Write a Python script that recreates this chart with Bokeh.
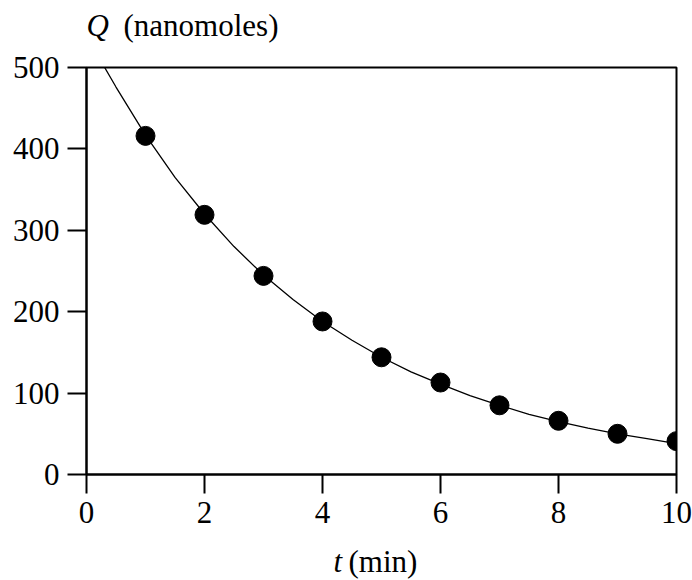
from bokeh.plotting import figure
from bokeh.layouts import column
from bokeh.models import Range1d, FixedTicker
from bokeh.core.properties import value
from bokeh.embed import file_html
from bokeh.resources import INLINE

# measured points
t_obs = [1, 2, 3, 4, 5, 6, 7, 8, 9, 10]
q_obs = [416, 319, 244, 188, 144, 113, 85, 66, 50, 41]

# fitted curve
t_fit = [0.3, 0.5, 1.0, 1.5, 2.0, 2.5, 3.0, 3.5, 4.0, 4.5, 5.0, 5.5, 6.0, 6.5,
         7.0, 7.5, 8.0, 8.5, 9.0, 9.5, 10.0]
q_fit = [501, 476, 417, 365, 320, 280, 245, 215, 188, 165, 144, 126, 111, 97,
         85, 74, 65, 57, 50, 44, 38]

x_ticks = [0, 2, 4, 6, 8, 10]
y_ticks = [0, 100, 200, 300, 400, 500]

FONT = "Liberation Serif"
FS = "31px"
W = 692
LEFT, RIGHT = 86, 16
HEAD_H = 50
FOOT_H = 36
MAIN_H = 580 - HEAD_H - FOOT_H
TOP = 67 - HEAD_H          # main frame top, inside the main figure
FRAME_H = 407
SHIFT = 9                  # compensation for the renderer's baseline offset


def text_strip(height):
    f = figure(width=W, height=height, output_backend="svg", toolbar_location=None,
               title_location=None,
               x_range=Range1d(LEFT, W - RIGHT), y_range=Range1d(0, height),
               x_axis_type=None, y_axis_type=None,
               min_border_left=LEFT, min_border_right=RIGHT,
               min_border_top=0, min_border_bottom=0)
    f.grid.visible = False
    f.outline_line_color = None
    f.background_fill_color = "white"
    f.border_fill_color = "white"
    return f


def put(f, x, y, s, style="normal"):
    f.text(x=[x], y=[y], text=[s], text_font=value(FONT),
           text_font_size=value(FS), text_font_style=value(style),
           text_color="black", text_baseline="alphabetic", text_align="left")


# header with the y-axis title (baseline 34 px from the top of the page)
head = text_strip(HEAD_H)
put(head, 86, HEAD_H - 34 + SHIFT, "Q", "italic")
put(head, 123, HEAD_H - 34 + SHIFT, "(nanomoles)")

# main plot
p = figure(width=W, height=MAIN_H, output_backend="svg", toolbar_location=None,
           title_location=None,
           x_range=Range1d(0, 10), y_range=Range1d(0, 500),
           min_border_left=LEFT, min_border_right=RIGHT, min_border_top=TOP,
           min_border_bottom=MAIN_H - TOP - FRAME_H)
p.grid.visible = False
p.outline_line_color = "black"
p.outline_line_width = 2
p.background_fill_color = "white"
p.border_fill_color = "white"

for ax in (p.xaxis[0], p.yaxis[0]):
    ax.axis_line_width = 2
    ax.major_tick_line_width = 2
    ax.major_tick_out = 19
    ax.major_tick_in = 0
    ax.minor_tick_out = 0
    ax.minor_tick_in = 0
    ax.major_label_text_font = FONT
    ax.major_label_text_font_size = FS
    ax.major_label_text_color = "black"
p.xaxis[0].ticker = FixedTicker(ticks=x_ticks)
p.yaxis[0].ticker = FixedTicker(ticks=y_ticks)
p.xaxis[0].major_label_standoff = 8
p.yaxis[0].major_label_standoff = 8

p.line(t_fit, q_fit, line_color="black", line_width=1.3)
p.scatter(t_obs, q_obs, size=19, fill_color="black", line_color="black")

# footer with the x-axis title (baseline ~570 px from the top of the page)
foot = text_strip(FOOT_H)
put(foot, 333, FOOT_H - (570 - (580 - FOOT_H)) + SHIFT, "t", "italic")
put(foot, 348, FOOT_H - (570 - (580 - FOOT_H)) + SHIFT, "(min)")

layout = column(head, p, foot, spacing=0)
open("out.html", "w").write(file_html(layout, INLINE))
